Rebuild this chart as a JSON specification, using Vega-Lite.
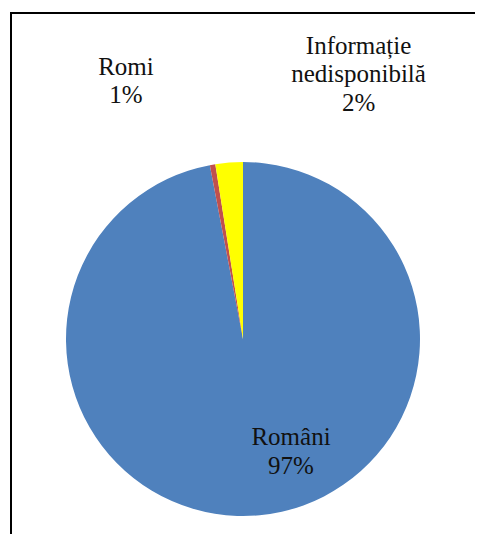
{
  "$schema": "https://vega.github.io/schema/vega-lite/v6.json",
  "width": 464,
  "height": 652,
  "autosize": "none",
  "padding": {"left": 11, "top": 13, "right": 0, "bottom": 0},
  "background": "#ffffff",
  "view": {"stroke": "#000000", "strokeWidth": 2, "strokeDash": [464, 652, 1200, 100], "fill": null},
  "data": {
    "values": [
      {"group": "Români", "value": 97.0, "ord": 1, "label": "Români\n97%"},
      {"group": "Romi", "value": 0.5, "ord": 2, "label": "Romi\n1%"},
      {"group": "Informație nedisponibilă", "value": 2.5, "ord": 3, "label": "Informație\nnedisponibilă\n2%"}
    ]
  },
  "encoding": {
    "theta": {"field": "value", "type": "quantitative", "stack": true},
    "order": {"field": "ord", "type": "quantitative"}
  },
  "layer": [
    {
      "mark": {"type": "arc", "outerRadius": 177},
      "encoding": {
        "color": {
          "field": "group",
          "type": "nominal",
          "scale": {
            "domain": ["Români", "Romi", "Informație nedisponibilă"],
            "range": ["#4F81BD", "#C0504D", "#FFFF00"]
          },
          "legend": null
        }
      }
    },
    {
      "mark": {"type": "text", "radius": 106.5, "dx": 38, "align": "center", "baseline": "alphabetic", "fill": "#111111", "font": "Liberation Serif", "fontSize": 25, "lineHeight": 29, "lineBreak": "\n"},
      "encoding": {
        "text": {"condition": {"test": "datum.group === 'Români'", "field": "label"}, "value": ""}
      }
    },
    {
      "mark": {"type": "text", "radius": 268, "dx": -71, "align": "center", "baseline": "alphabetic", "fill": "#111111", "font": "Liberation Serif", "fontSize": 25, "lineHeight": 28, "lineBreak": "\n"},
      "encoding": {
        "text": {"condition": {"test": "datum.group === 'Romi'", "field": "label"}, "value": ""}
      }
    },
    {
      "mark": {"type": "text", "radius": 285.9, "dx": 138, "align": "center", "baseline": "alphabetic", "fill": "#111111", "font": "Liberation Serif", "fontSize": 25, "lineHeight": 28.5, "lineBreak": "\n"},
      "encoding": {
        "text": {"condition": {"test": "datum.group === 'Informație nedisponibilă'", "field": "label"}, "value": ""}
      }
    }
  ]
}
